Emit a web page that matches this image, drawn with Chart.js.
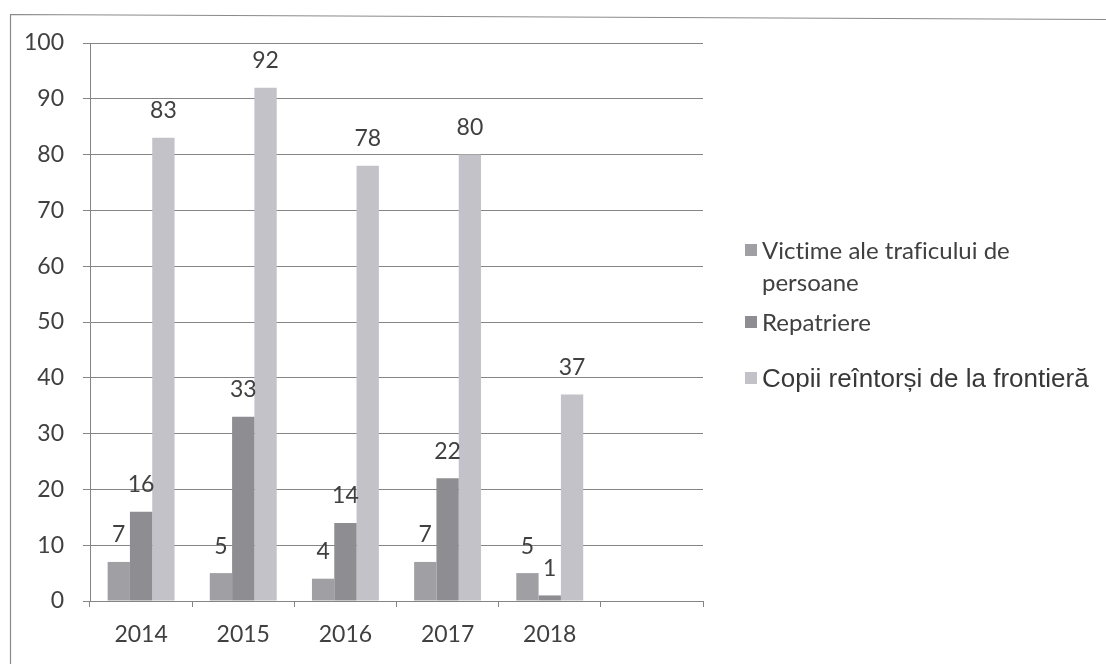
<!DOCTYPE html>
<html>
<head>
<meta charset="utf-8">
<script src="https://cdn.jsdelivr.net/npm/chart.js@4.4.1/dist/chart.umd.min.js"></script>
<style>
  html, body { margin: 0; padding: 0; background: #ffffff; }
  #wrap { position: relative; width: 1106px; height: 664px; overflow: hidden; }
  #chart { position: absolute; left: 0; top: 0; }
  .legend-item { position: absolute; left: 745px; color: #404040; font-family: Lato, "Open Sans", sans-serif; font-size: 24px; font-variant-ligatures: none; }
  .legend-item .sw { position: absolute; left: 0; width: 12px; height: 12px; }
  .legend-item .tx { position: absolute; left: 17px; white-space: nowrap; line-height: 32px; }
</style>
</head>
<body>
<div id="wrap">
  <canvas id="chart" width="1106" height="664"></canvas>
  <div class="legend-item" style="top:234px;">
    <div class="sw" style="top:10px; background:#a0a0a4;"></div>
    <div class="tx" style="top:0;">Victime ale traficului de<br>persoane</div>
  </div>
  <div class="legend-item" style="top:306px;">
    <div class="sw" style="top:10px; background:#8e8e92;"></div>
    <div class="tx" style="top:0;">Repatriere</div>
  </div>
  <div class="legend-item" style="top:362px;">
    <div class="sw" style="top:10px; background:#c2c2c8;"></div>
    <div class="tx" style="top:0; font-family:'Liberation Sans', Arial, sans-serif; font-size:26px; color:#383838;">Copii reîntorși de la frontieră</div>
  </div>
</div>
<script>
// Years on the category axis (last slot left empty)
const years = ['2014', '2015', '2016', '2017', '2018', ''];
// Series values per year
const victime = [7, 5, 4, 7, 5];
const repatriere = [16, 33, 14, 22, 1];
const copii = [83, 92, 78, 80, 37];
// Value axis ticks
const yTicks = [0, 10, 20, 30, 40, 50, 60, 70, 80, 90, 100];

const seriesNames = ['Victime ale traficului de persoane', 'Repatriere', 'Copii reîntorși de la frontieră'];
const seriesColors = ['#a0a0a4', '#8e8e92', '#c2c2c8'];

const gridColor = '#858585';
const textColor = '#404040';
const tickFont = { family: 'Lato, "Open Sans", sans-serif', size: 23 };

// Thin frame around the whole figure
const framePlugin = {
  id: 'frame',
  beforeDraw(chart) {
    const ctx = chart.ctx;
    ctx.save();
    ctx.strokeStyle = '#8a8a8a';
    ctx.lineWidth = 1.2;
    ctx.beginPath();
    ctx.moveTo(10.5, 664);
    ctx.lineTo(10.5, 14.5);
    ctx.lineTo(1106, 19.5);
    ctx.stroke();
    ctx.restore();
  }
};

// Value labels above each bar
const valueLabels = {
  id: 'valueLabels',
  afterDatasetsDraw(chart) {
    const ctx = chart.ctx;
    ctx.save();
    ctx.fillStyle = textColor;
    ctx.font = '23px Lato, "Open Sans", sans-serif';
    ctx.textAlign = 'center';
    ctx.textBaseline = 'middle';
    chart.data.datasets.forEach((ds, i) => {
      const meta = chart.getDatasetMeta(i);
      meta.data.forEach((bar, j) => {
        const v = ds.data[j];
        if (v === undefined || v === null) return;
        ctx.fillText(String(v), bar.x, bar.y - 27);
      });
    });
    ctx.restore();
  }
};

new Chart(document.getElementById('chart'), {
  type: 'bar',
  data: {
    labels: years,
    datasets: [
      { label: seriesNames[0], data: victime, backgroundColor: seriesColors[0] },
      { label: seriesNames[1], data: repatriere, backgroundColor: seriesColors[1] },
      { label: seriesNames[2], data: copii, backgroundColor: seriesColors[2] }
    ]
  },
  options: {
    responsive: false,
    animation: false,
    devicePixelRatio: 1,
    layout: { padding: { left: 0, top: 43, right: 403, bottom: 0 } },
    datasets: { bar: { categoryPercentage: 0.655, barPercentage: 1.0, borderWidth: 0 } },
    plugins: { legend: { display: false }, tooltip: { enabled: false } },
    scales: {
      x: {
        afterFit(scale) { scale.height = 63; },
        grid: { offset: true, drawOnChartArea: false, drawTicks: true, tickLength: 6, color: gridColor, lineWidth: 1 },
        border: { display: true, color: gridColor, width: 1 },
        ticks: { color: textColor, font: tickFont, padding: 14, maxRotation: 0 }
      },
      y: {
        min: 0,
        max: 100,
        afterFit(scale) { scale.width = 90; },
        afterBuildTicks(scale) { scale.ticks = yTicks.map(v => ({ value: v })); },
        grid: { color: gridColor, lineWidth: 1, tickLength: 7, drawTicks: true },
        border: { display: true, color: gridColor, width: 1 },
        ticks: { color: textColor, font: tickFont, padding: 19 }
      }
    }
  },
  plugins: [framePlugin, valueLabels]
});
</script>
</body>
</html>
